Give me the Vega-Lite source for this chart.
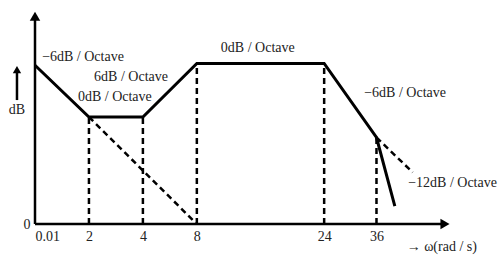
{
  "$schema": "https://vega.github.io/schema/vega-lite/v6.json",
  "width": 410,
  "height": 214,
  "autosize": {"type": "none"},
  "padding": {"left": 35, "top": 10, "right": 55, "bottom": 31},
  "background": "white",
  "config": {"view": {"stroke": null}, "font": "'Liberation Serif', 'Times New Roman', 'DejaVu Serif', serif"},
  "datasets": {
    "asymptote": [
      {"i": 1, "x": 0, "db": 17.8},
      {"i": 2, "x": 1, "db": 12},
      {"i": 3, "x": 2, "db": 12},
      {"i": 4, "x": 3, "db": 18},
      {"i": 5, "x": 5.36, "db": 18},
      {"i": 6, "x": 6.33, "db": 9.7},
      {"i": 7, "x": 6.67, "db": 2}
    ],
    "dashed": [
      {"seg": "a", "x": 1, "db": 12},
      {"seg": "a", "x": 3, "db": 0},
      {"seg": "b", "x": 6.33, "db": 9.7},
      {"seg": "b", "x": 7.0, "db": 5.8}
    ],
    "guides": [
      {"w": "2", "x": 1, "bottom": 0, "top": 12},
      {"w": "4", "x": 2, "bottom": 0, "top": 12},
      {"w": "8", "x": 3, "bottom": 0, "top": 18},
      {"w": "24", "x": 5.36, "bottom": 0, "top": 18},
      {"w": "36", "x": 6.33, "bottom": 0, "top": 9.7}
    ],
    "axes": [
      {"x": 0, "x2": 7.55, "y": 0, "y2": 0},
      {"x": 0, "x2": 0, "y": 0, "y2": 23.2},
      {"x": -0.334, "x2": -0.334, "y": 13.9, "y2": 17.0}
    ],
    "arrows": [
      {"x": 7.6, "y": 0, "shape": "triangle-right", "s": 110},
      {"x": 0, "y": 23.3, "shape": "triangle-up", "s": 110},
      {"x": -0.334, "y": 17.3, "shape": "triangle-up", "s": 70}
    ],
    "notes": [
      {"t": "−6dB / Octave", "x": 0.89, "y": 18.73},
      {"t": "6dB / Octave", "x": 1.78, "y": 16.49},
      {"t": "0dB / Octave", "x": 1.48, "y": 14.24},
      {"t": "0dB / Octave", "x": 4.13, "y": 19.74},
      {"t": "−6dB / Octave", "x": 6.86, "y": 14.69},
      {"t": "−12dB / Octave", "x": 7.74, "y": 4.6},
      {"t": "→ ω(rad / s)", "x": 7.54, "y": -2.58},
      {"t": "dB", "x": -0.334, "y": 12.8}
    ]
  },
  "layer": [
    {
      "data": {"name": "guides"},
      "mark": {"type": "rule", "color": "black", "strokeWidth": 2.5, "strokeDash": [6, 4]},
      "encoding": {
        "x": {
          "field": "x", "type": "quantitative",
          "scale": {"domain": [0, 7.6], "nice": false, "zero": false},
          "axis": {
            "values": [0, 1, 2, 3, 5.36, 6.33],
            "labelExpr": "datum.value == 0 ? '0.01' : datum.value == 1 ? '2' : datum.value == 2 ? '4' : datum.value == 3 ? '8' : datum.value == 5.36 ? '24' : '36'",
            "labelAlign": {"condition": {"test": "datum.value == 0", "value": "left"}, "value": "center"},
            "labelFont": "'Liberation Serif', 'Times New Roman', serif", "labelFontSize": 14, "labelColor": "#222",
            "labelPadding": 5, "ticks": false, "domain": false, "grid": false, "title": null
          }
        },
        "y": {
          "field": "bottom", "type": "quantitative",
          "scale": {"domain": [0, 24], "nice": false, "zero": false},
          "axis": {
            "values": [0], "labelExpr": "'0'",
            "labelFont": "'Liberation Serif', 'Times New Roman', serif", "labelFontSize": 14, "labelColor": "#222",
            "labelPadding": 5, "ticks": false, "domain": false, "grid": false, "title": null
          }
        },
        "y2": {"field": "top"}
      }
    },
    {
      "data": {"name": "axes"},
      "mark": {"type": "rule", "color": "black", "strokeWidth": 2.5},
      "encoding": {
        "x": {"field": "x", "type": "quantitative"},
        "x2": {"field": "x2"},
        "y": {"field": "y", "type": "quantitative"},
        "y2": {"field": "y2"}
      }
    },
    {
      "data": {"name": "arrows"},
      "mark": {"type": "point", "filled": true, "color": "black", "opacity": 1},
      "encoding": {
        "x": {"field": "x", "type": "quantitative"},
        "y": {"field": "y", "type": "quantitative"},
        "shape": {"field": "shape", "type": "nominal", "scale": null},
        "size": {"field": "s", "type": "quantitative", "scale": null}
      }
    },
    {
      "data": {"name": "dashed"},
      "mark": {"type": "line", "color": "black", "strokeWidth": 2.5, "strokeDash": [6, 4]},
      "encoding": {
        "x": {"field": "x", "type": "quantitative"},
        "y": {"field": "db", "type": "quantitative"},
        "detail": {"field": "seg"}
      }
    },
    {
      "data": {"name": "asymptote"},
      "mark": {"type": "line", "color": "black", "strokeWidth": 3, "strokeJoin": "miter"},
      "encoding": {
        "x": {"field": "x", "type": "quantitative"},
        "y": {"field": "db", "type": "quantitative"},
        "order": {"field": "i"}
      }
    },
    {
      "data": {"name": "notes"},
      "mark": {"type": "text", "font": "'Liberation Serif', 'Times New Roman', serif", "fontSize": 14, "color": "#222", "baseline": "middle", "align": "center"},
      "encoding": {
        "x": {"field": "x", "type": "quantitative"},
        "y": {"field": "y", "type": "quantitative"},
        "text": {"field": "t"}
      }
    }
  ]
}
